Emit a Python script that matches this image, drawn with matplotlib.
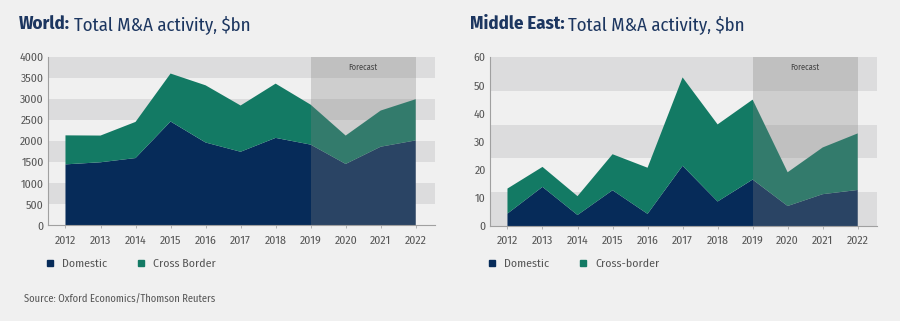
import matplotlib
matplotlib.use('Agg')
import matplotlib.pyplot as plt
from matplotlib.patches import Patch
import matplotlib.transforms as mtransforms

plt.rcParams['font.family'] = ['Fira Sans Condensed', 'DejaVu Sans']

years = [2012, 2013, 2014, 2015, 2016, 2017, 2018, 2019, 2020, 2021, 2022]

world_domestic = [1450, 1500, 1600, 2470, 1970, 1750, 2080, 1920, 1460, 1870, 2020]
world_cross = [690, 635, 860, 1140, 1360, 1100, 1290, 950, 675, 860, 980]

me_domestic = [4.4, 13.9, 3.9, 12.7, 4.3, 21.4, 8.7, 16.5, 7.1, 11.3, 12.8]
me_cross = [8.9, 7.1, 6.7, 12.8, 16.4, 31.4, 27.4, 28.4, 12.0, 16.6, 20.1]

world_yticks = [0, 500, 1000, 1500, 2000, 2500, 3000, 3500, 4000]
me_yticks = [0, 10, 20, 30, 40, 50, 60]
world_bands = [(500, 1000), (1500, 2000), (2500, 3000), (3500, 4000)]
me_bands = [(0, 12), (24, 36), (48, 60)]

forecast_start, forecast_end = 2019, 2022

navy = '#062b59'
teal = '#137a64'
bg = '#f0f0f0'
band = '#dcdcdd'
txt = '#555555'
title_col = '#1c3660'

fig = plt.figure(figsize=(9, 3.21), dpi=100, facecolor=bg)


def panel(rect, dom, cross, yticks, bands, ymax, bold, rest, labels, title_x, leg_x):
    ax = fig.add_axes(rect)
    ax.set_facecolor(bg)
    for lo, hi in bands:
        ax.axhspan(lo, hi, color=band, lw=0, zorder=0)
    ax.stackplot(years, dom, cross, colors=[navy, teal], lw=0, zorder=2)
    ax.axvspan(forecast_start, forecast_end, color='#808080', alpha=0.3, lw=0, zorder=3)
    trans = mtransforms.blended_transform_factory(ax.transData, ax.transAxes)
    ax.text((forecast_start + forecast_end) / 2, 0.94, 'Forecast', transform=trans,
            ha='center', va='center', fontsize=6, color='#444444', zorder=4)
    ax.set_xlim(2011.5, 2022.55)
    ax.set_ylim(0, ymax)
    ax.set_xticks(years)
    ax.set_yticks(yticks)
    ax.tick_params(axis='x', length=2, width=0.5, color='#999999', labelsize=8.5, labelcolor=txt, pad=5)
    ax.tick_params(axis='y', length=0, labelsize=8.5, labelcolor=txt, pad=3)
    for s in ['top', 'right']:
        ax.spines[s].set_visible(False)
    for s in ['left', 'bottom']:
        ax.spines[s].set_color('#a0a0a0')
        ax.spines[s].set_linewidth(0.8)

    # title in two parts
    t = fig.text(title_x, 0.925, bold, fontsize=13.5, fontweight='bold', color=title_col, va='center')
    fig.canvas.draw()
    bb = t.get_window_extent().transformed(fig.transFigure.inverted())
    fig.text(bb.x1 + 0.004, 0.925, rest, fontsize=13.5, color=title_col, va='center')

    handles = [Patch(color=navy, label=labels[0]), Patch(color=teal, label=labels[1])]
    fig.legend(handles=handles, loc='center left', bbox_to_anchor=(leg_x, 0.177), ncol=2,
               frameon=False, fontsize=8.5, labelcolor=txt, handlelength=0.5, handleheight=0.5,
               handletextpad=0.8, columnspacing=2.6, borderaxespad=0, borderpad=0)
    return ax


panel([0.0533, 0.298, 0.430, 0.524], world_domestic, world_cross, world_yticks, world_bands,
      4000, 'World:', 'Total M&A activity, $bn', ['Domestic', 'Cross Border'], 0.021, 0.052)
panel([0.5444, 0.296, 0.430, 0.526], me_domestic, me_cross, me_yticks, me_bands,
      60, 'Middle East:', 'Total M&A activity, $bn', ['Domestic', 'Cross-border'], 0.522, 0.543)

fig.text(0.027, 0.065, 'Source: Oxford Economics/Thomson Reuters', fontsize=7.5, color=txt, va='center')

fig.savefig('out.png', dpi=100, facecolor=bg)
